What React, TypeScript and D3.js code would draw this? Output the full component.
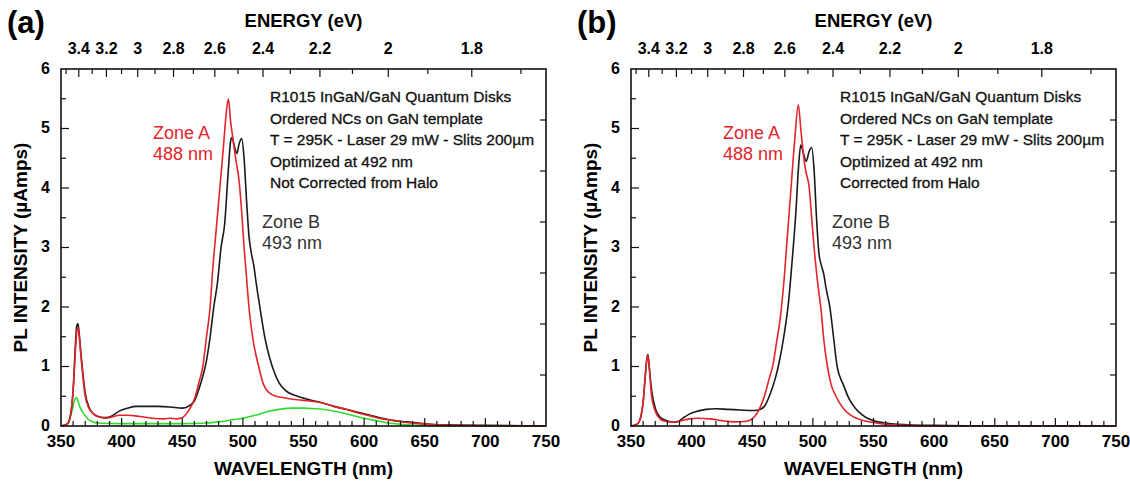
import * as d3 from 'd3';
import React, { useRef, useEffect } from 'react';

// wavelength (nm), intensity (uAmps)
const zoneB_a = [[350,0],[355,0.03],[358,0.2],[360,0.6],[362,1.4],[363,1.68],[364,1.72],[365,1.55],[367,1.1],[370,0.55],[373,0.32],[377,0.2],[382,0.15],[387,0.14],[392,0.17],[398,0.25],[405,0.3],[412,0.33],[420,0.33],[430,0.33],[440,0.32],[450,0.3],[455,0.33],[460,0.42],[465,0.7],[470,1.1],[473,1.5],[476,2.0],[479,2.4],[482,3.0],[485,3.4],[488,4.3],[490,4.8],[491,4.85],[493,4.7],[495,4.58],[497,4.75],[499,4.83],[501,4.5],[503,3.8],[505,3.2],[507,2.9],[509,2.7],[511,2.4],[514,2.0],[518,1.5],[522,1.15],[526,0.9],[530,0.72],[535,0.6],[545,0.5],[555,0.44],[565,0.39],[575,0.33],[585,0.28],[595,0.23],[605,0.18],[615,0.13],[625,0.09],[635,0.07],[645,0.05],[655,0.03],[670,0.02],[700,0.01],[750,0]];
const zoneA_a = [[350,0],[355,0.03],[358,0.2],[360,0.6],[362,1.3],[363,1.58],[364,1.66],[365,1.5],[367,1.05],[370,0.5],[373,0.3],[377,0.2],[382,0.15],[387,0.13],[392,0.15],[398,0.18],[405,0.18],[415,0.16],[425,0.13],[435,0.12],[440,0.13],[445,0.12],[450,0.14],[455,0.25],[460,0.45],[464,0.75],[467,1.0],[470,1.5],[473,2.0],[475,2.6],[478,3.3],[481,4.0],[484,4.7],[486,5.2],[488,5.5],[490,5.1],[492,4.8],[494,4.5],[497,4.1],[499,3.6],[501,3.0],[503,2.5],[505,2.0],[508,1.5],[513,1.0],[517,0.7],[521,0.57],[526,0.51],[535,0.47],[545,0.44],[555,0.42],[565,0.39],[575,0.33],[585,0.28],[595,0.22],[605,0.17],[615,0.12],[625,0.09],[635,0.06],[645,0.04],[660,0.02],[700,0.005],[750,0]];
const halo_a = [[350,0],[356,0.05],[359,0.25],[361,0.42],[363,0.48],[364,0.42],[366,0.3],[369,0.2],[372,0.12],[376,0.07],[380,0.05],[400,0.04],[430,0.04],[450,0.04],[470,0.05],[480,0.07],[490,0.1],[500,0.13],[510,0.18],[520,0.24],[530,0.28],[540,0.3],[550,0.3],[560,0.29],[570,0.27],[580,0.23],[590,0.18],[600,0.13],[610,0.09],[620,0.05],[630,0.03],[650,0.01],[680,0],[750,0]];

const zoneB_b = [[350,0],[355,0.03],[358,0.15],[360,0.4],[362,0.9],[363,1.12],[364,1.2],[365,1.0],[367,0.6],[370,0.3],[374,0.15],[378,0.1],[383,0.07],[388,0.07],[392,0.12],[398,0.2],[405,0.25],[412,0.28],[420,0.29],[430,0.28],[440,0.27],[450,0.26],[455,0.27],[460,0.33],[465,0.55],[469,0.8],[472,1.05],[476,1.5],[480,2.1],[483,2.8],[486,3.6],[488,4.3],[490,4.72],[492,4.6],[494.5,4.45],[497,4.62],[499,4.68],[501,4.3],[503,3.5],[505,2.9],[507,2.7],[509,2.55],[511,2.3],[514,2.0],[517,1.5],[520,1.0],[525,0.7],[530,0.45],[535,0.3],[540,0.2],[545,0.13],[550,0.09],[560,0.05],[570,0.03],[600,0.01],[650,0],[750,0]];
const zoneA_b = [[350,0],[355,0.03],[358,0.15],[360,0.4],[362,0.9],[363,1.1],[364,1.18],[365,1.0],[367,0.5],[370,0.25],[374,0.12],[378,0.08],[383,0.07],[390,0.08],[398,0.12],[405,0.13],[415,0.12],[425,0.09],[435,0.07],[445,0.08],[450,0.12],[455,0.25],[460,0.5],[464,0.8],[467,1.02],[470,1.4],[473,1.8],[476,2.4],[479,3.2],[482,4.0],[485,4.8],[488,5.4],[490,5.0],[492,4.6],[494,4.3],[497,4.0],[499,3.5],[501,3.0],[504,2.4],[507,1.9],[509,1.45],[512,1.0],[515,0.7],[519,0.5],[525,0.3],[530,0.2],[540,0.1],[550,0.06],[560,0.03],[580,0.01],[600,0],[750,0]];

const energyMajor = [3.4, 3.2, 3, 2.8, 2.6, 2.4, 2.2, 2, 1.8];
const energyMinor = [3.5, 3.3, 3.1, 2.9, 2.7, 2.5, 2.3, 2.1, 1.9, 1.7];
const notesA = ["R1015 InGaN/GaN Quantum Disks", "Ordered NCs on GaN template", "T = 295K - Laser 29 mW - Slits 200µm", "Optimized at 492 nm", "Not Corrected from Halo"];
const notesB = ["R1015 InGaN/GaN Quantum Disks", "Ordered NCs on GaN template", "T = 295K - Laser 29 mW - Slits 200µm", "Optimized at 492 nm", "Corrected from Halo"];

const FONT = "'Liberation Sans', Arial, Helvetica, sans-serif";
const RED = "#e3242b";
const BLACK = "#1a1a1a";
const GREEN = "#2edc2e";

function drawPanel(svg, dx, tag, notes, series) {
    var margin = {left: 61 + dx, right: 546 + dx, top: 69, bottom: 426};
    var x = d3.scaleLinear().domain([350, 750]).range([margin.left, margin.right]);
    var y = d3.scaleLinear().domain([0, 6]).range([margin.bottom, margin.top]);
    var yr = d3.scaleLinear().domain([0, 7]).range([margin.bottom, margin.top]);
    var g = svg.append("g").style("font-family", FONT);

    // curves
    var line = d3.line()
        .curve(d3.curveMonotoneX)
        .x(function(d) { return x(d[0]); })
        .y(function(d) { return y(d[1]); });
    series.forEach(function(s) {
        g.append("path")
            .datum(s.data)
            .attr("fill", "none")
            .attr("stroke", s.color)
            .attr("stroke-width", 1.6)
            .attr("stroke-linejoin", "round")
            .attr("d", line);
    });

    // frame
    g.append("rect")
        .attr("x", margin.left).attr("y", margin.top)
        .attr("width", margin.right - margin.left)
        .attr("height", margin.bottom - margin.top)
        .attr("fill", "none").attr("stroke", "#111").attr("stroke-width", 1.6);

    // bottom ticks
    d3.range(360, 750, 10).forEach(function(v) {
        var major = v % 50 === 0;
        g.append("line")
            .attr("x1", x(v)).attr("x2", x(v))
            .attr("y1", margin.bottom).attr("y2", margin.bottom - (major ? 8 : 5))
            .attr("stroke", "#111").attr("stroke-width", 1.2);
    });
    x.ticks(8).forEach(function(v) {
        g.append("text")
            .attr("x", x(v)).attr("y", margin.bottom + 21)
            .attr("text-anchor", "middle")
            .style("font-size", "17px").style("font-weight", "bold")
            .text(v);
    });

    // left ticks
    d3.range(0.5, 6, 0.5).forEach(function(v) {
        var major = v % 1 === 0;
        g.append("line")
            .attr("x1", margin.left).attr("x2", margin.left + (major ? 8 : 5))
            .attr("y1", y(v)).attr("y2", y(v))
            .attr("stroke", "#111").attr("stroke-width", 1.2);
    });
    y.ticks(6).forEach(function(v) {
        g.append("text")
            .attr("x", margin.left - 11).attr("y", y(v))
            .attr("dy", "0.3em")
            .attr("text-anchor", "end")
            .style("font-size", "16px").style("font-weight", "bold")
            .text(v);
    });

    // right ticks (unlabelled)
    d3.range(1, 7).forEach(function(v) {
        g.append("line")
            .attr("x1", margin.right).attr("x2", margin.right - 6)
            .attr("y1", yr(v)).attr("y2", yr(v))
            .attr("stroke", "#111").attr("stroke-width", 1.2);
    });

    // top energy axis
    function ex(e) { return x(1239.84 / e); }
    energyMajor.forEach(function(e) {
        g.append("line")
            .attr("x1", ex(e)).attr("x2", ex(e))
            .attr("y1", margin.top).attr("y2", margin.top + 8)
            .attr("stroke", "#111").attr("stroke-width", 1.2);
        g.append("text")
            .attr("x", ex(e)).attr("y", margin.top - 15)
            .attr("text-anchor", "middle")
            .style("font-size", "16px").style("font-weight", "bold")
            .text(e);
    });
    energyMinor.forEach(function(e) {
        g.append("line")
            .attr("x1", ex(e)).attr("x2", ex(e))
            .attr("y1", margin.top).attr("y2", margin.top + 5)
            .attr("stroke", "#111").attr("stroke-width", 1.2);
    });

    var cx = (margin.left + margin.right) / 2;
    g.append("text")
        .attr("x", cx).attr("y", 27)
        .attr("text-anchor", "middle")
        .style("font-size", "18.5px").style("font-weight", "bold")
        .text("ENERGY (eV)");
    g.append("text")
        .attr("x", cx).attr("y", 475)
        .attr("text-anchor", "middle")
        .style("font-size", "19px").style("font-weight", "bold")
        .text("WAVELENGTH (nm)");
    g.append("text")
        .attr("transform", "translate(" + (27 + dx) + "," + ((margin.top + margin.bottom) / 2) + ") rotate(-90)")
        .attr("text-anchor", "middle")
        .style("font-size", "19px").style("font-weight", "bold")
        .text("PL INTENSITY (µAmps)");
    g.append("text")
        .attr("x", 7 + dx).attr("y", 33)
        .style("font-size", "31px").style("font-weight", "bold")
        .text(tag);

    // annotations
    notes.forEach(function(t, i) {
        g.append("text")
            .attr("x", 270 + dx).attr("y", 102 + i * 21.5)
            .style("font-size", "15.5px")
            .style("fill", "#111")
            .style("stroke", "#111").style("stroke-width", 0.3)
            .text(t);
    });
    g.append("text").attr("x", 153 + dx).attr("y", 139)
        .style("font-size", "18px").style("fill", RED).text("Zone A");
    g.append("text").attr("x", 153 + dx).attr("y", 160)
        .style("font-size", "18px").style("fill", RED).text("488 nm");
    g.append("text").attr("x", 262 + dx).attr("y", 228)
        .style("font-size", "18px").style("fill", "#333").text("Zone B");
    g.append("text").attr("x", 262 + dx).attr("y", 249)
        .style("font-size", "18px").style("fill", "#333").text("493 nm");
}

export default function App() {
    const ref = useRef(null);

    useEffect(() => {
        const svg = d3.select(ref.current);
        svg.selectAll("*").remove();
        drawPanel(svg, 0, "(a)", notesA, [
            {data: halo_a, color: GREEN},
            {data: zoneB_a, color: BLACK},
            {data: zoneA_a, color: RED}
        ]);
        drawPanel(svg, 570, "(b)", notesB, [
            {data: zoneB_b, color: BLACK},
            {data: zoneA_b, color: RED}
        ]);
    }, []);

    return (
        <svg ref={ref} width={1130} height={481}
            style={{position: "absolute", left: 0, top: 0, background: "#fff"}}>
        </svg>
    );
}
